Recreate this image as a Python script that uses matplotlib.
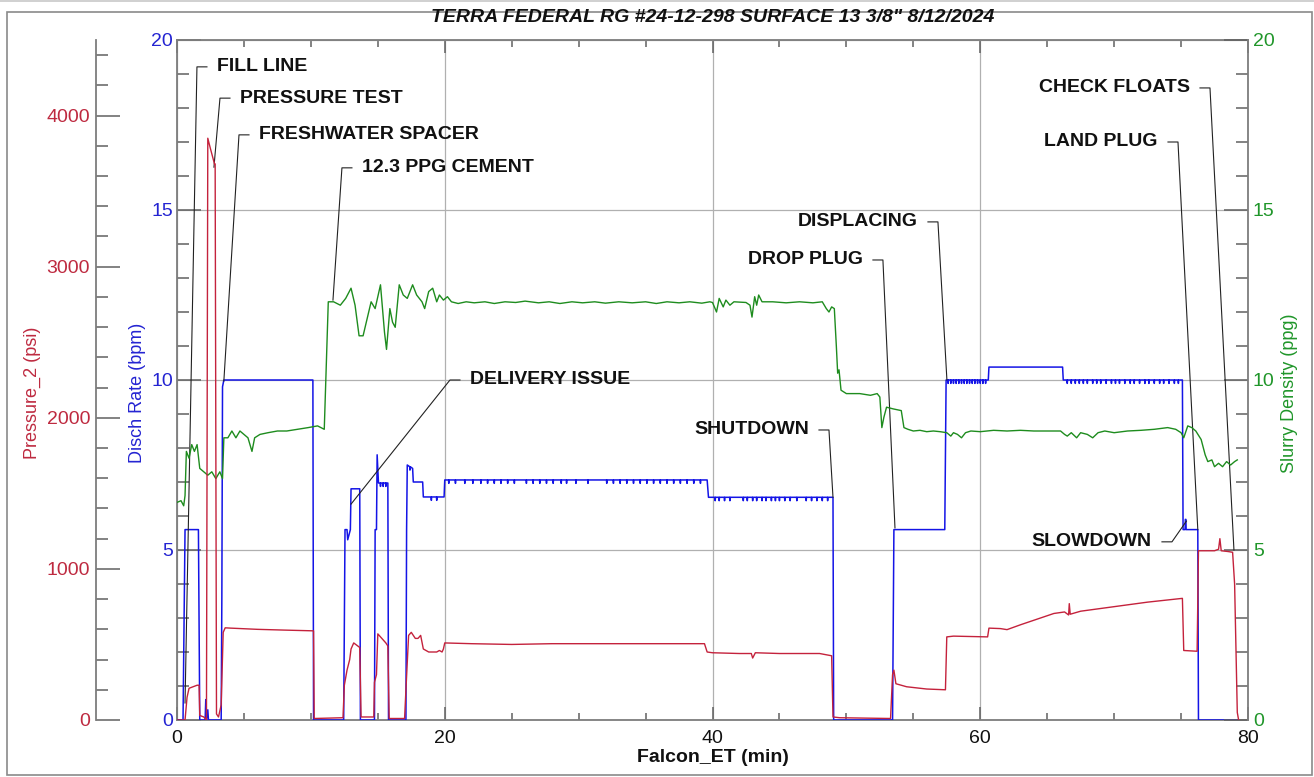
import numpy as np
import matplotlib
matplotlib.use("Agg")
import matplotlib.pyplot as plt
from matplotlib.patches import Rectangle
from matplotlib.lines import Line2D

plt.rcParams['font.family'] = ['Liberation Sans', 'DejaVu Sans']

# ---------------- data ----------------
time_rate = [0.0, 0.45, 0.6, 1.6, 1.7, 2.1, 2.15, 2.2, 2.3, 2.35, 3.3, 3.35, 3.4, 3.5,
             10.15, 10.2, 12.45, 12.55, 12.7, 12.75, 12.95, 13.0, 13.65, 13.7,
             14.75, 14.8, 14.9, 14.95, 15.05, 15.75, 15.8,
             17.1, 17.15, 17.2, 17.6, 17.65, 18.35, 18.4, 19.95, 20.0,
             39.6, 39.7, 49.0, 49.05, 53.45, 53.55, 57.35, 57.45,
             60.6, 60.65, 66.15, 66.2, 75.1, 75.15, 75.3, 75.32, 75.36, 75.38,
             76.25, 76.3, 79.2]
rate_bpm = [0.0, 0.0, 5.6, 5.6, 0.0, 0.0, 0.6, 0.0, 0.3, 0.0, 0.0, 3.6, 9.8, 10.0,
            10.0, 0.0, 0.0, 5.6, 5.6, 5.3, 5.6, 6.8, 6.8, 0.0,
            0.0, 5.6, 5.6, 7.8, 6.97, 6.97, 0.0,
            0.0, 5.6, 7.5, 7.4, 7.0, 7.0, 6.56, 6.56, 7.06,
            7.06, 6.55, 6.55, 0.0, 0.0, 5.6, 5.6, 10.0,
            10.0, 10.38, 10.38, 10.0, 10.0, 5.6, 5.6, 5.9, 5.9, 5.6,
            5.6, 0.0, 0.0]
rate_dip_times = [15.2, 15.4, 15.6, 17.4, 19.0, 19.4,
                  20.3, 20.8, 21.5, 22.1, 22.7, 23.2, 23.7, 24.2, 24.7, 25.2, 26.1, 26.6,
                  27.1, 27.6, 28.1, 28.7, 29.1, 29.8, 30.7, 32.1, 32.6, 33.1, 33.6,
                  34.1, 34.6, 35.1, 35.6, 36.1, 36.6, 37.1, 37.6, 38.1, 38.6, 39.1,
                  40.2, 40.5, 40.9, 41.3, 42.3, 42.6, 43.0, 43.3, 43.7, 44.0, 44.4,
                  44.7, 45.0, 45.4, 45.8, 46.3, 47.0, 47.4, 47.8, 48.2, 48.6,
                  57.6, 57.8, 58.0, 58.2, 58.4, 58.6, 58.8, 59.0, 59.2, 59.4, 59.6,
                  59.8, 60.0, 60.2, 60.4,
                  66.5, 66.8, 67.1, 67.4, 67.7, 68.0, 68.4, 68.7, 69.0, 69.4, 69.8,
                  70.1, 70.4, 70.8, 71.2, 71.5, 71.9, 72.3, 72.6, 73.0, 73.4, 73.7,
                  74.1, 74.5, 74.8]

time_press = [0.0, 0.6, 0.75, 0.9, 1.2, 1.5, 1.65, 1.7, 2.0, 2.2, 2.3, 2.5, 2.8, 2.85,
              2.95, 3.1, 3.3, 3.45, 3.6, 4.0, 6.0, 8.0, 10.2, 10.25, 12.4,
              12.5, 12.7, 12.9, 13.0, 13.2, 13.5, 13.65, 13.75, 14.7, 14.75, 14.9,
              15.0, 15.3, 15.6, 15.75, 15.85, 17.0, 17.1, 17.3, 17.5, 17.8, 18.0,
              18.2, 18.4, 18.8, 19.4, 19.6, 19.8, 19.9, 20.0, 22.0, 25.0, 28.0,
              30.0, 35.0, 39.4, 39.6, 40.0, 42.0, 42.9, 43.0, 43.2, 45.0, 48.0,
              48.9, 49.0, 49.5, 53.3, 53.45, 53.55, 53.7, 54.5, 56.0, 57.4, 57.5,
              58.0, 60.55, 60.65, 61.5, 62.0, 63.0, 64.0, 65.5, 66.3, 66.6, 66.65,
              66.72, 67.5, 70.0, 72.5, 75.1, 75.2, 76.2, 76.3, 77.5, 77.8, 77.9,
              78.0, 78.5, 78.85, 79.0, 79.2, 79.3]
pressure_psi = [0, 0, 150, 210, 220, 230, 230, 30, 20, 0, 3850, 3780, 3680, 3680,
                40, 20, 100, 580, 610, 608, 600, 595, 590, 10, 15,
                230, 330, 400, 470, 510, 490, 480, 20, 20, 250, 300,
                570, 540, 510, 490, 10, 10, 200, 560, 580, 540, 540,
                560, 470, 450, 450, 460, 450, 470, 510, 505, 500, 505,
                505, 505, 505, 450, 445, 440, 440, 410, 445, 440, 440,
                425, 20, 15, 10, 300, 330, 240, 220, 205, 200, 550,
                555, 550, 608, 605, 598, 630, 660, 705, 715, 695, 770,
                700, 720, 750, 780, 805, 460, 455, 1120, 1120, 1130, 1200,
                1120, 1115, 1110, 900, 50, 0]

time_dens = [0.0, 0.3, 0.5, 0.6, 0.7, 0.9, 1.1, 1.3, 1.5, 1.7, 2.0, 2.3, 2.6, 2.9,
             3.2, 3.4, 3.5, 3.8, 4.1, 4.4, 4.7, 5.0, 5.3, 5.6, 5.8, 6.2, 6.8, 7.5,
             8.2, 9.0, 9.8, 10.5, 11.0, 11.3, 11.7, 12.2, 12.6, 13.0, 13.3, 13.6,
             13.9, 14.2, 14.5, 14.8, 15.2, 15.5, 15.65, 15.9, 16.1, 16.3, 16.6,
             16.9, 17.2, 17.6, 17.9, 18.3, 18.5, 18.8, 19.1, 19.4, 19.6, 19.9,
             20.2, 20.5, 21.0, 21.6, 22.2, 23.0, 23.7, 24.5, 25.3, 26.0, 27.0,
             27.8, 28.6, 29.5, 30.3, 31.2, 32.0, 33.0, 34.0, 35.0, 35.8, 36.6,
             37.5, 38.3, 39.2, 39.8, 40.0, 40.3, 40.5, 40.8, 41.0, 41.3, 41.6,
             42.5, 42.8, 42.95, 43.15, 43.3, 43.45, 43.7, 44.5, 45.5, 46.5, 47.5,
             48.2, 48.5, 48.7, 48.9, 49.1, 49.25, 49.35, 49.45, 49.6, 50.0, 51.0,
             51.8, 52.3, 52.5, 52.65, 52.8, 53.0, 53.5, 54.1, 54.3, 54.6, 55.0,
             55.5, 56.0, 56.5, 57.0, 57.5, 57.8, 58.0, 58.3, 58.6, 58.9, 59.3,
             60.0, 61.0, 62.0, 63.0, 64.0, 65.0, 66.0, 66.3, 66.5, 66.8, 67.2,
             67.5, 68.0, 68.4, 68.8, 69.3, 70.0, 71.0, 72.0, 73.0, 74.0, 74.6,
             75.0, 75.2, 75.5, 75.8, 76.1, 76.5, 76.8, 77.0, 77.3, 77.5, 77.8,
             78.1, 78.4, 78.7, 79.0, 79.2]
density_ppg = [6.4, 6.45, 6.3, 6.6, 7.9, 7.7, 8.1, 7.9, 8.1, 7.4, 7.3, 7.2, 7.3, 7.1,
               7.3, 7.1, 8.3, 8.3, 8.5, 8.3, 8.5, 8.4, 8.3, 7.9, 8.3, 8.4, 8.45, 8.5,
               8.5, 8.55, 8.6, 8.65, 8.55, 12.3, 12.3, 12.2, 12.4, 12.7, 12.2, 11.3,
               11.3, 11.8, 12.3, 12.1, 12.8, 11.4, 10.9, 12.1, 11.7, 11.55, 12.8,
               12.5, 12.4, 12.8, 12.5, 12.3, 12.1, 12.6, 12.7, 12.3, 12.5, 12.35,
               12.45, 12.3, 12.25, 12.3, 12.27, 12.3, 12.25, 12.3, 12.28, 12.32, 12.27,
               12.3, 12.25, 12.3, 12.27, 12.3, 12.26, 12.3, 12.27, 12.3, 12.25, 12.3,
               12.27, 12.3, 12.26, 12.3, 12.28, 12.0, 12.4, 12.15, 12.35, 12.2, 12.3,
               12.28, 12.2, 11.85, 12.45, 12.2, 12.5, 12.3, 12.3, 12.27, 12.3, 12.27,
               12.3, 12.1, 12.0, 12.15, 12.1, 11.0, 10.2, 10.3, 9.7, 9.6, 9.6,
               9.55, 9.6, 9.5, 8.6, 8.9, 9.2, 9.15, 9.1, 8.6, 8.55, 8.5,
               8.52, 8.48, 8.5, 8.48, 8.45, 8.35, 8.45, 8.4, 8.3, 8.45, 8.5,
               8.48, 8.52, 8.5, 8.52, 8.5, 8.5, 8.5, 8.4, 8.35, 8.45, 8.3,
               8.45, 8.4, 8.3, 8.45, 8.5, 8.45, 8.5, 8.52, 8.55, 8.6, 8.55,
               8.45, 8.3, 8.65, 8.6, 8.5, 8.25, 7.8, 7.6, 7.65, 7.45, 7.55,
               7.45, 7.6, 7.5, 7.6, 7.65]

x_ticks = [0, 20, 40, 60, 80]
rate_ticks = [0, 5, 10, 15, 20]
press_ticks = [0, 1000, 2000, 3000, 4000]
dens_ticks = [0, 5, 10, 15, 20]

title = 'TERRA FEDERAL RG #24-12-298 SURFACE 13 3/8" 8/12/2024'
event_labels = ['FILL LINE', 'PRESSURE TEST', 'FRESHWATER SPACER', '12.3 PPG CEMENT',
                'DELIVERY ISSUE', 'SHUTDOWN', 'DROP PLUG', 'DISPLACING',
                'CHECK FLOATS', 'LAND PLUG', 'SLOWDOWN']
event_time = [0.6, 2.76, 3.5, 11.65, 13.0, 49.0, 53.63, 57.51, 78.95, 76.25, 75.4]
event_value = [0.5, 16.26, 9.97, 12.35, 6.35, 6.55, 5.65, 10.0, 5.0, 5.6, 5.85]

# ---------------- layout (pixels of the 1314x777 canvas) ----------------
W, H = 1314, 777
L, R, T, B = 177, 1248, 40, 720
# elbow of each leader line (data coords on the 0-20 scale) and text side
label_elbow = [(1.49, 19.21, 'L'), (3.21, 18.29, 'L'), (4.63, 17.21, 'L'),
               (12.32, 16.24, 'L'), (20.39, 10.0, 'L'), (48.7, 8.53, 'R'),
               (52.73, 13.53, 'R'), (56.84, 14.65, 'R'), (77.16, 18.59, 'R'),
               (74.77, 17.0, 'R'), (74.32, 5.24, 'R')]

RED = '#C4223C'
BLUE = '#1414E6'
GREEN = '#1E8C1E'
RED_T = '#BE2A40'
BLUE_T = '#2424D2'
GREEN_T = '#20962A'
SPINE = '#7d7d7d'
TICK = '#606060'

fig = plt.figure(figsize=(W / 100, H / 100), dpi=100)
ax = fig.add_axes([L / W, 1 - B / H, (R - L) / W, (B - T) / H])
ax_g = ax.twinx()
ax_p = ax.twinx()

# --- build rate series with its small dips
pts = list(zip(time_rate, rate_bpm))
for d in rate_dip_times:
    lvl = float(np.interp(d, time_rate, rate_bpm))
    pts += [(d - 0.02, lvl), (d, lvl - 0.1), (d + 0.02, lvl)]
pts = sorted(pts, key=lambda p: p[0])
rt = [p[0] for p in pts]
rv = [p[1] for p in pts]

ax.plot(rt, rv, color=BLUE, lw=1.1, zorder=3)
ax_p.plot(time_press, pressure_psi, color=RED, lw=1.0, zorder=3)
ax_g.plot(time_dens, density_ppg, color=GREEN, lw=1.0, zorder=3)

# --- limits and ticks
ax.set_xlim(0, 80)
ax.set_ylim(0, 20)
ax_g.set_ylim(0, 20)
ax_p.set_ylim(0, 4500)

ax.set_xticks(x_ticks)
ax.set_xticks(np.arange(0, 81, 5), minor=True)
ax.set_yticks(rate_ticks)
ax.set_yticks(np.arange(0, 21, 1), minor=True)
ax_g.set_yticks(dens_ticks)
ax_g.set_yticks(np.arange(0, 21, 1), minor=True)
ax_p.set_yticks(press_ticks)
ax_p.set_yticks(np.arange(0, 4501, 200), minor=True)

ax.grid(True, which='major', color='#b0b0b0', lw=0.9, zorder=0)
ax.set_axisbelow(True)

fs = 14
ax.tick_params(axis='x', which='both', direction='in', top=True, bottom=True,
               color=TICK, width=1.1)
ax.tick_params(axis='x', which='major', length=9.4, pad=7.5, labelsize=fs,
               labelcolor='#111111')
ax.tick_params(axis='x', which='minor', length=5)
ax.tick_params(axis='y', which='both', direction='in', left=True, right=False,
               color=TICK, width=1.1)
ax.tick_params(axis='y', which='major', length=17.5, pad=3, labelsize=fs,
               labelcolor=BLUE_T)
ax.tick_params(axis='y', which='minor', length=8.8)

ax_g.tick_params(axis='y', which='both', direction='in', right=True, left=False,
                 color=TICK, width=1.1)
ax_g.tick_params(axis='y', which='major', length=17.5, pad=3.5, labelsize=fs,
                 labelcolor=GREEN_T)
ax_g.tick_params(axis='y', which='minor', length=8.8)

ax_p.spines['left'].set_position(('axes', (96 - L) / (R - L)))
ax_p.yaxis.set_ticks_position('left')
ax_p.tick_params(axis='y', which='both', direction='in', left=True, right=False,
                 color=TICK, width=1.1)
ax_p.tick_params(axis='y', which='major', length=17.5, pad=4.3, labelsize=fs,
                 labelcolor=RED_T)
ax_p.tick_params(axis='y', which='minor', length=8.8)

for a in (ax, ax_g, ax_p):
    for s in a.spines.values():
        s.set_color(SPINE)
        s.set_linewidth(1.3)
for s in ('top', 'bottom', 'right'):
    ax_p.spines[s].set_visible(False)
for s in ('top', 'bottom', 'left'):
    ax_g.spines[s].set_visible(False)
ax.spines['right'].set_visible(False)

# --- event annotations (leader lines with short horizontal stub)
px = (R - L) / 80.0
seg = 10 / px
gap = 20 / px
for lab, x0, y0, (ex, ey, side) in zip(event_labels, event_time, event_value, label_elbow):
    if side == 'L':
        ax_g.plot([x0, ex, ex + seg], [y0, ey, ey], color='#222222', lw=0.8,
                  zorder=2, clip_on=False)
        ax_g.text(ex + gap, ey, lab, ha='left', va='center', fontsize=fs,
                  fontweight='bold', color='#111111', zorder=4)
    else:
        ax_g.plot([x0, ex, ex - seg], [y0, ey, ey], color='#222222', lw=0.8,
                  zorder=2, clip_on=False)
        ax_g.text(ex - gap, ey, lab, ha='right', va='center', fontsize=fs,
                  fontweight='bold', color='#111111', zorder=4)

# --- titles and axis labels
fig.text(713 / W, 1 - 18 / H, title, ha='center', va='center', fontsize=14,
         fontweight='bold', fontstyle='italic', color='#111111')
fig.text(713 / W, 1 - 758 / H, 'Falcon_ET (min)', ha='center', va='center',
         fontsize=fs, fontweight='bold', color='#111111')
fig.text(32 / W, 1 - 393 / H, 'Pressure_2 (psi)', rotation=90, ha='center',
         va='center', fontsize=13, color=RED_T)
fig.text(137 / W, 1 - 393 / H, 'Disch Rate (bpm)', rotation=90, ha='center',
         va='center', fontsize=13, color=BLUE_T)
fig.text(1289 / W, 1 - 393 / H, 'Slurry Density (ppg)', rotation=90, ha='center',
         va='center', fontsize=13, color=GREEN_T)

# --- outer frame
fig.add_artist(Rectangle((7 / W, 1 - 775 / H), (1312 - 7) / W, (775 - 12) / H,
                         transform=fig.transFigure, fill=False, ec='#8a8a8a', lw=1.2))
fig.add_artist(Line2D([0, 1], [1 - 1 / H, 1 - 1 / H], transform=fig.transFigure,
                      color='#c8c8c8', lw=1.2))

fig.savefig('out.png', dpi=100)
